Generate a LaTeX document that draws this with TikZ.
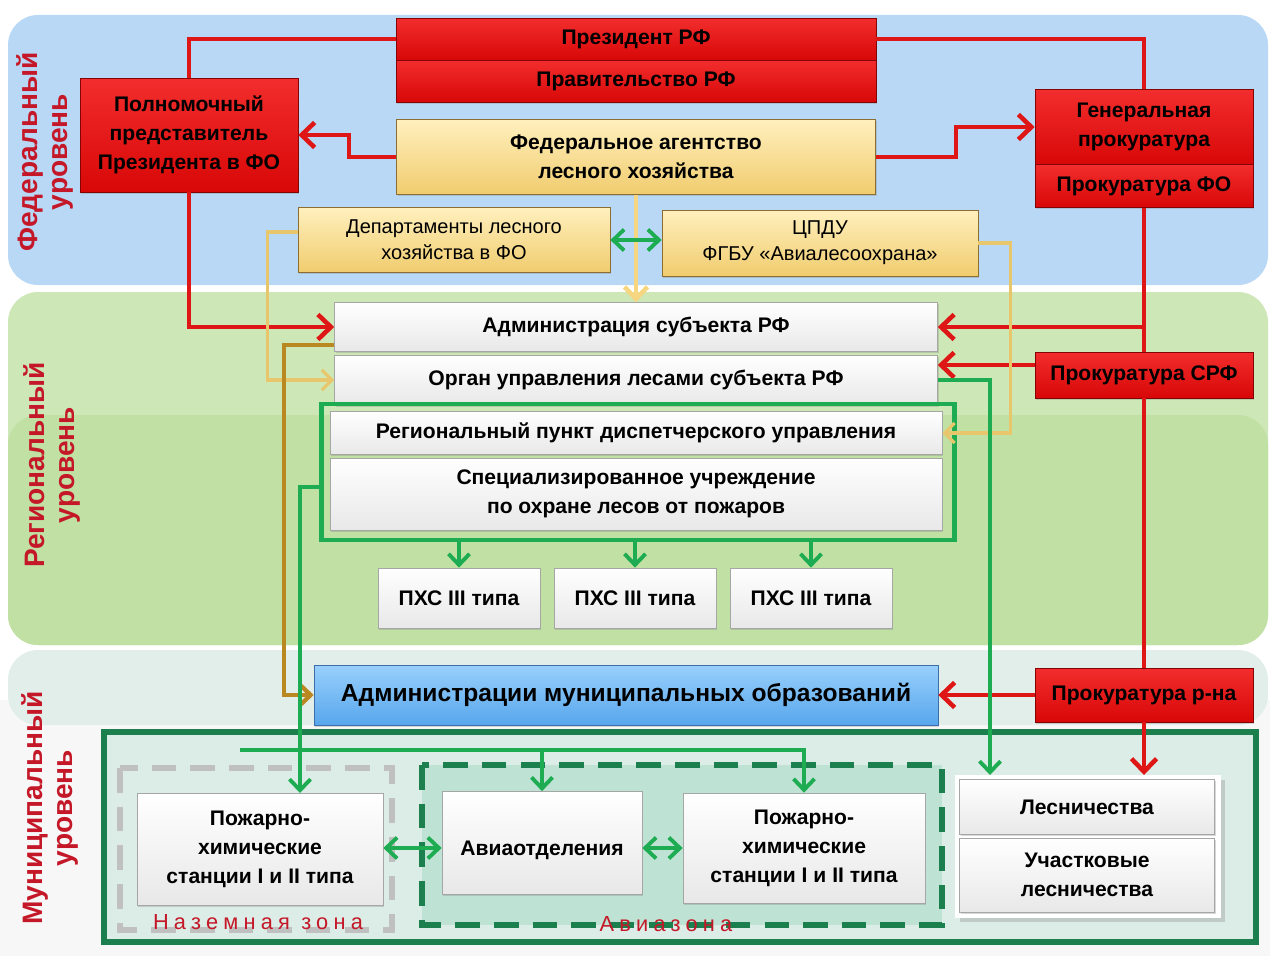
\documentclass[tikz,border=0pt]{standalone}
\usepackage{fontspec}
\setmainfont{Liberation Sans}
\usepackage{tikz}
\usetikzlibrary{arrows.meta}
\usetikzlibrary{shadows}

\definecolor{fedbg}{RGB}{184,216,246}
\definecolor{regbg}{RGB}{206,231,182}
\definecolor{regbgdark}{RGB}{192,224,164}
\definecolor{munbg}{RGB}{226,238,233}
\definecolor{munin}{RGB}{220,236,230}
\definecolor{lvlred}{RGB}{196,24,40}
\definecolor{boxred}{RGB}{240,8,8}
\definecolor{linered}{RGB}{222,22,22}
\definecolor{linegreen}{RGB}{30,172,82}
\definecolor{darkgreen}{RGB}{28,128,78}
\definecolor{lineyellow}{RGB}{246,214,128}
\definecolor{thinyel}{RGB}{232,198,108}
\definecolor{linebrown}{RGB}{186,136,32}
\definecolor{zonegray}{RGB}{192,192,192}
\definecolor{avfill}{RGB}{178,222,204}

\begin{document}
\begin{tikzpicture}[x=0.02cm, y=-0.02cm,
    basebox/.style={rectangle, inner sep=2pt, align=center, text=black,
        font=\bfseries\fontsize{12}{16.5}\selectfont,
        drop shadow={opacity=0.3, shadow xshift=0.8pt, shadow yshift=-1pt}},
    redbox/.style={basebox, top color=boxred!85!white, bottom color=boxred!90!black, draw=boxred!55!black},
    yelbox/.style={basebox, top color={rgb,255:red,255;green,240;blue,190}, bottom color={rgb,255:red,240;green,204;blue,110}, draw={rgb,255:red,140;green,110;blue,50}},
    whitebox/.style={basebox, top color=white, bottom color=black!9, draw=black!35},
    bluebox/.style={basebox, top color={rgb,255:red,152;green,208;blue,252}, bottom color={rgb,255:red,88;green,166;blue,236}, draw={rgb,255:red,60;green,110;blue,170}},
    thin/.style={font=\fontsize{11.4}{15}\selectfont},
    level/.style={rotate=90, align=center, text=lvlred, font=\bfseries\fontsize{16}{17.5}\selectfont},
    zonelabel/.style={text=lvlred, font=\fontsize{12.4}{14}\selectfont\addfontfeatures{LetterSpace=24}},
    redline/.style={draw=linered, line width=2.6pt},
    redarrow/.style={redline, -{Straight Barb[length=2.6mm,width=5mm]}},
    greenline/.style={draw=linegreen, line width=2.2pt},
    greenarrow/.style={greenline, -{Straight Barb[length=2.2mm,width=4.2mm]}},
    greenboth/.style={greenline, {Straight Barb[length=2.2mm,width=4.2mm]}-{Straight Barb[length=2.2mm,width=4.2mm]}},
    yellowarrow/.style={draw=lineyellow, line width=2.6pt, -{Straight Barb[length=2.4mm,width=4.6mm]}},
    thinyellow/.style={draw=thinyel, line width=1.8pt, -{Straight Barb[length=2mm,width=4mm]}},
    brownarrow/.style={draw=linebrown, line width=2.4pt, -{Straight Barb[length=2.2mm,width=4.2mm]}}]

\useasboundingbox (0,0) rectangle (1270,956);
\fill[white] (0,0) rectangle (1270,956);
\fill[black!3] (0,700) rectangle (1270,956);

\fill[fedbg, rounded corners=0.6cm] (8,15) rectangle (1268,285);
\fill[regbg, rounded corners=0.6cm] (8,292) rectangle (1268,645);
\fill[regbgdark, rounded corners=0.6cm] (8,415) rectangle (1268,645);
\fill[munbg, rounded corners=0.6cm] (8,650) rectangle (1268,725);

\node[level] (fedlvl) at (45,152) {Федеральный\\уровень};
\node[level] (reglvl) at (52,465) {Региональный\\уровень};
\node[level] (munlvl) at (50,808) {Муниципальный\\уровень};

\node[redbox, minimum width=9.6cm, minimum height=0.84cm] (pres) at (636,39) {Президент РФ};
\node[redbox, minimum width=9.6cm, minimum height=0.84cm] (gov) at (636,81) {Правительство РФ};
\node[redbox, minimum width=4.36cm, minimum height=2.28cm] (pp) at (189,135) {Полномочный\\представитель\\Президента в ФО};
\node[yelbox, minimum width=9.58cm, minimum height=1.5cm] (fa) at (636,157) {Федеральное агентство\\лесного хозяйства};
\node[redbox, minimum width=4.36cm, minimum height=1.5cm] (gp) at (1144,127) {Генеральная\\прокуратура};
\node[redbox, minimum width=4.36cm, minimum height=0.86cm] (pfo) at (1144,186) {Прокуратура ФО};
\node[yelbox, thin, minimum width=6.24cm, minimum height=1.3cm] (dep) at (454,240) {Департаменты лесного\\хозяйства в ФО};
\node[yelbox, thin, minimum width=6.32cm, minimum height=1.32cm] (cpdu) at (820,243) {ЦПДУ\\ФГБУ «Авиалесоохрана»};

\node[whitebox, minimum width=12.06cm, minimum height=0.98cm] (adm) at (636,327) {Администрация субъекта РФ};
\node[whitebox, minimum width=12.06cm, minimum height=1cm] (org) at (636,380) {Орган управления лесами субъекта РФ};
\node[draw=linegreen, line width=2.4pt, minimum width=12.66cm, minimum height=2.72cm] (zone) at (638,472) {};
\node[whitebox, minimum width=12.24cm, minimum height=0.86cm] (rpdu) at (636,433) {Региональный пункт диспетчерского управления};
\node[whitebox, minimum width=12.24cm, minimum height=1.44cm] (spec) at (636,494) {Специализированное учреждение\\по охране лесов от пожаров};
\node[whitebox, minimum width=3.24cm, minimum height=1.2cm] (phs1) at (459,598) {ПХС III типа};
\node[whitebox, minimum width=3.24cm, minimum height=1.2cm] (phs2) at (635,598) {ПХС III типа};
\node[whitebox, minimum width=3.24cm, minimum height=1.2cm] (phs3) at (811,598) {ПХС III типа};
\node[redbox, minimum width=4.36cm, minimum height=0.92cm] (psrf) at (1144,375) {Прокуратура СРФ};

\node[bluebox, font=\bfseries\fontsize{14}{16}\selectfont, minimum width=12.48cm, minimum height=1.2cm] (amo) at (626,695) {Администрации муниципальных образований};
\node[redbox, minimum width=4.36cm, minimum height=1.08cm] (prn) at (1144,695) {Прокуратура р-на};

\draw[darkgreen, line width=3pt, fill=munin] (104,732) rectangle (1256,942);
\draw[zonegray, line width=3pt, dash pattern=on 14pt off 8pt] (120,768) rectangle (392,930);
\draw[darkgreen, line width=3pt, dash pattern=on 14pt off 8pt, fill=avfill, fill opacity=0.7] (422,765) rectangle (942,925);
\node[zonelabel] (ground) at (258,922) {Наземная зона};
\node[zonelabel] (avia) at (666,924) {Авиазона};

\node[whitebox, minimum width=4.92cm, minimum height=2.24cm] (phsL) at (260,849) {Пожарно-\\химические\\станции I и II типа};
\node[whitebox, minimum width=4cm, minimum height=2.06cm, text height=0.55cm, text depth=0.05cm] (aviad) at (542,843) {Авиаотделения};
\node[whitebox, minimum width=4.84cm, minimum height=2.2cm] (phsR) at (804,848) {Пожарно-\\химические\\станции I и II типа};
\draw[white, fill=white, drop shadow={opacity=0.3}] (955,775) rectangle (1220,917);
\node[whitebox, minimum width=5.1cm, minimum height=1.1cm] (les) at (1087,807) {Лесничества};
\node[whitebox, minimum width=5.1cm, minimum height=1.48cm] (ules) at (1087,875) {Участковые\\лесничества};

\coordinate (gdrop) at (990,775);
\coordinate (phsLin) at (300,793);
\coordinate (bus) at (240,750);

\draw[redline] (pres.west) -| (pp.north);
\draw[redarrow] (pp.south) |- (adm.west);
\draw[redline] (pres.east) -| (gp.north);
\draw[redarrow] (fa.west) -- ++(-47,0) |- (pp.east);
\draw[redarrow] (fa.east) -- ++(80,0) |- (gp.west);
\draw[redline] (pfo.south) -- (psrf.north);
\draw[redarrow] (pfo.south |- adm.east) -- (adm.east);
\draw[redarrow] ([yshift=0.2cm]psrf.west) -- ([yshift=0.2cm]psrf.west -| org.east);
\draw[redline] (psrf.south) -- (prn.north);
\draw[redarrow] (prn.west) -- (amo.east);
\draw[redarrow] (prn.south) -- (prn.south |- 0,775);

\draw[yellowarrow] (fa.south) -- (adm.north);
\draw[thinyellow] ([yshift=0.16cm]dep.west) -- ++(-30,0) |- (org.west);
\draw[thinyellow] (cpdu.east) -- ++(32,0) |- (rpdu.east);
\draw[brownarrow] ([yshift=-0.36cm]adm.west) -- ++(-50,0) |- (amo.west);

\draw[greenboth] (dep.east) -- (cpdu.west |- dep.east);
\draw[greenarrow] (org.east) -| (gdrop);
\draw[greenarrow] ([yshift=-0.3cm]zone.west) -| (phsLin);
\draw[greenarrow] (zone.south -| phs1.north) -- (phs1.north);
\draw[greenarrow] (zone.south -| phs2.north) -- (phs2.north);
\draw[greenarrow] (zone.south -| phs3.north) -- (phs3.north);
\draw[greenarrow] (bus) -| (phsR.north);
\draw[greenarrow] (bus -| aviad.north) -- (aviad.north);
\draw[greenboth] (phsL.east |- 0,848) -- (aviad.west |- 0,848);
\draw[greenboth] (aviad.east |- 0,848) -- (phsR.west |- 0,848);
\end{tikzpicture}
\end{document}
